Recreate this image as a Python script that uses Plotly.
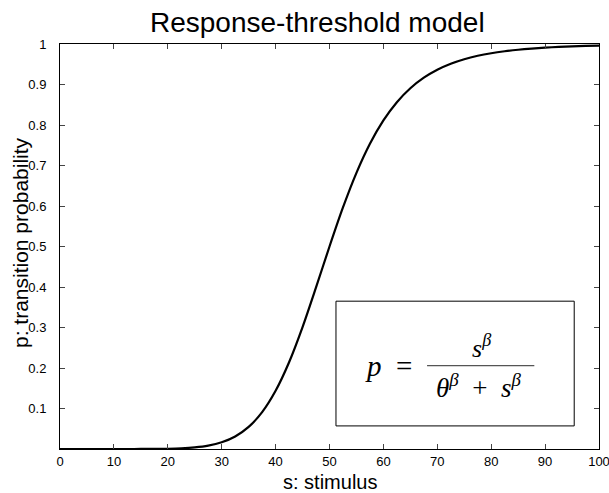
import plotly.graph_objects as go

# stimulus values (s) and read-off transition probabilities (p)
s_vals = [0, 2.5, 5, 7.5, 10, 12.5, 15, 17.5, 20, 22.5, 25, 27.5, 30, 32.5, 35,
          37.5, 40, 42.5, 45, 47.5, 50, 52.5, 55, 57.5, 60, 62.5, 65, 67.5, 70,
          72.5, 75, 77.5, 80, 82.5, 85, 87.5, 90, 92.5, 95, 97.5, 100]
p_vals = [0.0, 0.0, 0.0, 0.0, 0.000003, 0.000015, 0.000066, 0.000225, 0.000655,
          0.001679, 0.003891, 0.008304, 0.016519, 0.030880, 0.054506, 0.091004,
          0.143667, 0.214140, 0.300927, 0.398830, 0.5, 0.596360, 0.681894,
          0.753637, 0.811314, 0.856332, 0.890798, 0.916889, 0.936539, 0.951316,
          0.962445, 0.970858, 0.977247, 0.982123, 0.985868, 0.988759, 0.991007,
          0.992765, 0.994146, 0.995240, 0.996109]

x_ticks = [0, 10, 20, 30, 40, 50, 60, 70, 80, 90, 100]
y_ticks = [0.1, 0.2, 0.3, 0.4, 0.5, 0.6, 0.7, 0.8, 0.9, 1]
y_tick_text = ["0.1", "0.2", "0.3", "0.4", "0.5", "0.6", "0.7", "0.8", "0.9", "1"]

title_text = "Response-threshold model"
x_label = "s: stimulus"
y_label = "p: transition probability"

FONT = "Liberation Sans, Arial, sans-serif"
SERIF = "Liberation Serif, DejaVu Serif, serif"

fig = go.Figure()
fig.add_trace(go.Scatter(
    x=s_vals, y=p_vals, mode="lines",
    line=dict(color="black", width=2.2, shape="spline", smoothing=0.8),
    hoverinfo="skip", showlegend=False,
))

# equation box
fig.add_shape(type="rect", xref="x", yref="y", x0=51.2, x1=95.4, y0=0.057, y1=0.365,
              line=dict(color="black", width=1), fillcolor="white", layer="below")
# fraction bar
fig.add_shape(type="line", xref="x", yref="y", x0=68.1, x1=88.0, y0=0.2057, y1=0.2057,
              line=dict(color="#555", width=1.3))

fig.add_annotation(x=60.9, y=0.206, xref="x", yref="y", showarrow=False,
                   text="<i>p</i>  =", font=dict(family=SERIF, size=29, color="black"))
fig.add_annotation(x=78.3, y=0.254, xref="x", yref="y", showarrow=False,
                   text="<i>s</i><sup><i>β</i></sup>",
                   font=dict(family=SERIF, size=26, color="black"))
fig.add_annotation(x=77.6, y=0.156, xref="x", yref="y", showarrow=False,
                   text="<i>θ</i><sup><i>β</i></sup>  +  <i>s</i><sup><i>β</i></sup>",
                   font=dict(family=SERIF, size=27, color="black"))

# title and axis labels as paper-positioned text
fig.add_annotation(x=0.4777, y=1.0525, xref="paper", yref="paper", showarrow=False,
                   xanchor="center", yanchor="middle", text=title_text,
                   font=dict(family=FONT, size=28, color="black"))
fig.add_annotation(x=0.501, y=-0.0815, xref="paper", yref="paper", showarrow=False,
                   xanchor="center", yanchor="middle", text=x_label,
                   font=dict(family=FONT, size=20, color="black"))
fig.add_annotation(x=-0.0742, y=0.5086, xref="paper", yref="paper", showarrow=False,
                   xanchor="center", yanchor="middle", text=y_label, textangle=-90,
                   font=dict(family=FONT, size=21, color="black"))

fig.update_layout(
    width=609, height=493,
    margin=dict(l=60, r=10, t=44, b=44, autoexpand=False),
    paper_bgcolor="white", plot_bgcolor="white",
    font=dict(family=FONT, color="black"),
    xaxis=dict(
        range=[0, 100], tickvals=x_ticks, ticks="inside", ticklen=5,
        showline=True, linecolor="black", linewidth=1, mirror="ticks",
        showgrid=False, zeroline=False, automargin=False, ticklabeloverflow="allow",
        tickfont=dict(family=FONT, size=13, color="black"),
    ),
    yaxis=dict(
        range=[0, 1], tickvals=y_ticks, ticktext=y_tick_text, ticks="inside", ticklen=5,
        showline=True, linecolor="black", linewidth=1, mirror="ticks",
        showgrid=False, zeroline=False, automargin=False, ticklabeloverflow="allow",
        ticklabelstandoff=10,
        tickfont=dict(family=FONT, size=13, color="black"),
    ),
)

fig.write_html("out.html", config={"displayModeBar": False},
               post_script="document.body.style.margin='0px';")
